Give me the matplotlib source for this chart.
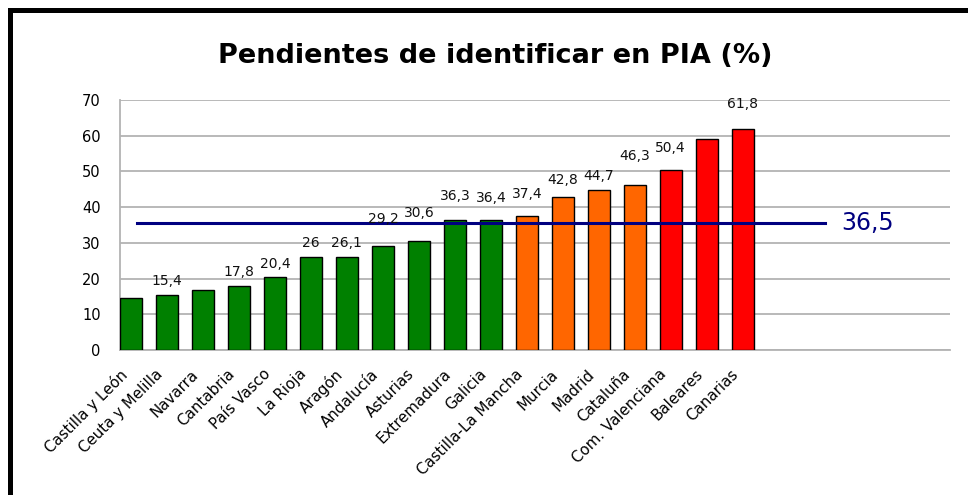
import matplotlib
matplotlib.use("Agg")
import matplotlib.pyplot as plt
from matplotlib.patches import Rectangle

regions = ["Castilla y León", "Ceuta y Melilla", "Navarra", "Cantabria", "País Vasco",
           "La Rioja", "Aragón", "Andalucía", "Asturias", "Extremadura", "Galicia",
           "Castilla-La Mancha", "Murcia", "Madrid", "Cataluña", "Com. Valenciana",
           "Baleares", "Canarias"]
values = [14.6, 15.4, 16.9, 17.8, 20.4, 26.0, 26.1, 29.2, 30.6, 36.3, 36.4,
          37.4, 42.8, 44.7, 46.3, 50.4, 59.2, 61.8]
labels = ["", "15,4", "", "17,8", "20,4", "26", "26,1", "29,2", "30,6", "36,3", "36,4",
          "37,4", "42,8", "44,7", "46,3", "50,4", "", "61,8"]
groups = ["low"] * 11 + ["mid"] * 4 + ["high"] * 3
group_colors = {"low": "#008000", "mid": "#FF6600", "high": "#FF0000"}
avg_line = 35.5
avg_label = "36,5"
yticks = [0, 10, 20, 30, 40, 50, 60, 70]

# styling: vertical gap (px) between bar top and its value label
label_gap_px = [10, 10, 10, 10, 9, 10, 10, 23, 24, 20, 18, 18, 13, 10, 25, 18, 10, 21]

fig = plt.figure(figsize=(9.68, 4.95), dpi=100)
ax = fig.add_axes([0.124, 0.293, 0.857, 0.505])

x = list(range(len(regions)))
colors = [group_colors[g] for g in groups]
ax.bar(x, values, width=0.61, color=colors, edgecolor="black", linewidth=1.0, zorder=3)

for xi, v, lab, gap in zip(x, values, labels, label_gap_px):
    if lab:
        ax.annotate(lab, (xi, v), xytext=(0, gap * 0.72), textcoords="offset points",
                    ha="center", va="baseline", fontsize=10, color="#111111", zorder=5)

ax.plot([0.17, 19.3], [avg_line, avg_line], color="#000080", linewidth=2.2, zorder=4)
ax.text(19.75, avg_line, avg_label, color="#000080", fontsize=17, va="center", ha="left")

ax.set_xlim(-0.305, 22.75)
ax.set_ylim(0, 70)
ax.set_yticks(yticks)
ax.set_yticklabels([str(t) for t in yticks], fontsize=10.5)
ax.set_xticks(x)
ax.set_xticklabels([])
for xi, name in zip(x, regions):
    ax.annotate(name, xy=(xi, 0), xycoords=("data", "axes fraction"),
                xytext=(-8.6, -12), textcoords="offset points",
                rotation=45, rotation_mode="anchor", ha="right", va="top",
                fontsize=10.8, annotation_clip=False)
ax.tick_params(axis="both", length=0)
ax.tick_params(axis="y", pad=14)
ax.yaxis.grid(True, color="#b3b3b3", linewidth=1.3, zorder=0)
ax.set_axisbelow(True)
for s in ["top", "right"]:
    ax.spines[s].set_visible(False)
ax.spines["left"].set_color("#b3b3b3")
ax.spines["bottom"].set_color("#b3b3b3")
ax.spines["left"].set_linewidth(1.3)
ax.spines["bottom"].set_linewidth(1.3)

fig.text(0.512, 1 - 56 / 495, "Pendientes de identificar en PIA (%)", ha="center", va="center",
         fontsize=19.5, fontweight="bold")

# outer frame
fig.patches.append(Rectangle((9.5 / 968, -0.1), 1.2, 1 - 10 / 495 + 0.1, transform=fig.transFigure,
                             fill=False, edgecolor="black", linewidth=3.6))

fig.savefig("out.png", dpi=100)
